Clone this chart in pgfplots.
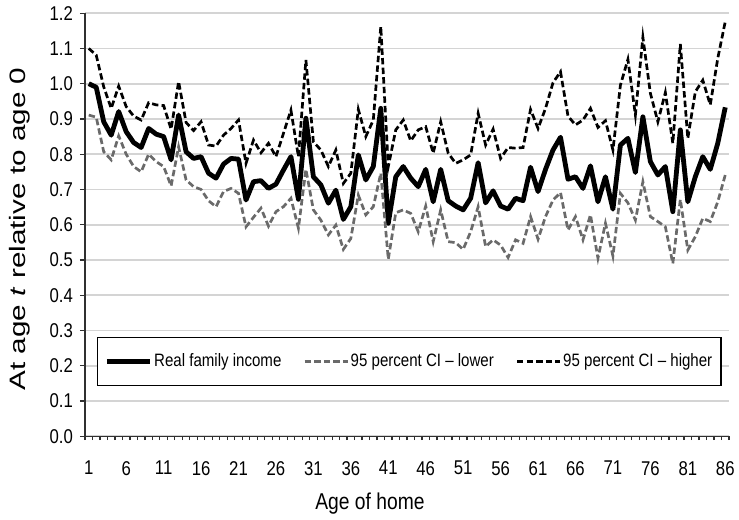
\documentclass[border=0pt]{standalone}
\usepackage{fontspec}
\setmainfont{Liberation Sans}[FakeStretch=0.84]
\newfontfamily\ylabfont{Liberation Sans}[FakeStretch=1.33]
\usepackage{pgfplots}
\usepackage{pgfplotstable}
\pgfplotsset{compat=1.18}

\definecolor{gridgray}{HTML}{D4D4D4}
\definecolor{cilow}{HTML}{6A6A6A}
\definecolor{axgray}{HTML}{303030}

% age, real family income, 95% CI lower, 95% CI higher
\pgfplotstableread{
x mid lo hi
1 1.000 0.911 1.100
2 0.990 0.905 1.081
3 0.892 0.807 0.991
4 0.854 0.784 0.930
5 0.921 0.852 0.993
6 0.864 0.800 0.935
7 0.833 0.765 0.908
8 0.819 0.750 0.897
9 0.873 0.800 0.946
10 0.857 0.779 0.940
11 0.850 0.765 0.938
12 0.784 0.710 0.871
13 0.911 0.821 1.006
14 0.807 0.727 0.890
15 0.788 0.708 0.867
16 0.793 0.700 0.892
17 0.746 0.668 0.826
18 0.732 0.651 0.823
19 0.772 0.694 0.854
20 0.788 0.703 0.873
21 0.786 0.689 0.897
22 0.670 0.594 0.774
23 0.722 0.621 0.840
24 0.725 0.647 0.804
25 0.703 0.596 0.831
26 0.715 0.637 0.793
27 0.755 0.651 0.859
28 0.793 0.675 0.925
29 0.672 0.590 0.793
30 0.902 0.757 1.067
31 0.736 0.642 0.835
32 0.713 0.613 0.812
33 0.661 0.571 0.765
34 0.698 0.599 0.812
35 0.615 0.530 0.717
36 0.651 0.561 0.746
37 0.798 0.684 0.927
38 0.727 0.628 0.850
39 0.765 0.651 0.897
40 0.930 0.746 1.162
41 0.604 0.502 0.765
42 0.736 0.634 0.869
43 0.765 0.642 0.897
44 0.732 0.632 0.838
45 0.708 0.580 0.869
46 0.757 0.653 0.878
47 0.665 0.552 0.803
48 0.757 0.642 0.892
49 0.668 0.552 0.803
50 0.653 0.549 0.774
51 0.642 0.530 0.784
52 0.675 0.580 0.798
53 0.776 0.651 0.916
54 0.662 0.538 0.826
55 0.696 0.557 0.871
56 0.653 0.542 0.788
57 0.644 0.507 0.819
58 0.675 0.557 0.817
59 0.668 0.547 0.819
60 0.763 0.623 0.927
61 0.694 0.559 0.873
62 0.757 0.623 0.930
63 0.812 0.670 1.003
64 0.848 0.691 1.034
65 0.729 0.585 0.908
66 0.736 0.623 0.883
67 0.703 0.557 0.897
68 0.767 0.628 0.930
69 0.665 0.505 0.876
70 0.736 0.604 0.895
71 0.644 0.511 0.812
72 0.826 0.689 0.996
73 0.845 0.662 1.069
74 0.748 0.613 0.911
75 0.906 0.722 1.132
76 0.779 0.623 0.973
77 0.741 0.609 0.892
78 0.765 0.594 0.975
79 0.637 0.490 0.831
80 0.869 0.672 1.113
81 0.665 0.528 0.845
82 0.736 0.566 0.977
83 0.793 0.618 1.010
84 0.757 0.609 0.940
85 0.831 0.665 1.072
86 0.933 0.741 1.176
}\data

\begin{document}
\begin{tikzpicture}
\begin{axis}[
    name=main,
    scale only axis,
    width=322bp, height=211.5bp,
    xmin=0.5, xmax=86.5,
    ymin=0, ymax=1.2,
    axis x line*=bottom,
    axis y line*=left,
    axis line style={axgray, line width=0.7bp},
    tick align=outside,
    major tick length=2.5bp,
    minor tick length=2bp,
    tick style={axgray, line width=0.6bp},
    xtick={1,6,...,86},
    major x tick style={draw=none},
    minor xtick={0.5,1.5,...,86.5},
    ytick={0,0.1,0.2,0.3,0.4,0.5,0.6,0.7,0.8,0.9,1.0,1.1,1.2},
    ymajorgrids,
    grid style={gridgray, line width=0.8bp},
    tick label style={font=\fontsize{10}{12}\selectfont, text=black},
    xticklabel style={yshift=-6.5bp},
    /pgf/number format/assume math mode=true,
    yticklabel style={/pgf/number format/.cd, fixed, fixed zerofill, precision=1},
    xticklabel style={/pgf/number format/.cd, fixed, precision=0},
    xlabel={Age of home},
    xlabel style={font=\fontsize{11.5}{13}\selectfont, at={(axis description cs:0.4425,0)}, anchor=center, yshift=-33.5bp},
    ylabel={At age \textit{t} relative to age 0},
    ylabel style={font=\ylabfont\fontsize{11.2}{13}\selectfont, at={(axis description cs:-0.101,0.49)}, anchor=center},
    legend columns=3,
    legend cell align=left,
    legend style={
        at={(0.0186,0.2345)}, anchor=north west,
        draw=black, line width=0.6bp,
        font=\fontsize{9}{11}\selectfont,
        inner xsep=3.5bp, inner ysep=7bp,
        /tikz/every odd column/.append style={column sep=0bp},
        /tikz/every even column/.append style={column sep=10bp},
        nodes={inner sep=0.9bp},
    },
    legend image code/.code={\draw[#1] (0bp,0bp) -- (21.5bp,0bp);},
]
\addplot[black, line width=2.4bp, line join=round] table[x=x, y=mid] {\data};
\addlegendentry{Real family income}
\addplot[cilow, line width=1.35bp, dash pattern=on 3.2bp off 1.6bp] table[x=x, y=lo] {\data};
\addlegendentry{95 percent CI -- lower}
\addplot[black, line width=1.35bp, dash pattern=on 3.2bp off 1.6bp] table[x=x, y=hi] {\data};
\addlegendentry{95 percent CI -- higher}
\end{axis}
\pgfresetboundingbox
\path ([shift={(-42.5bp,-41.4bp)}]main.south west) rectangle ([shift={(5bp,6.6bp)}]main.north east);
\end{tikzpicture}
\end{document}
